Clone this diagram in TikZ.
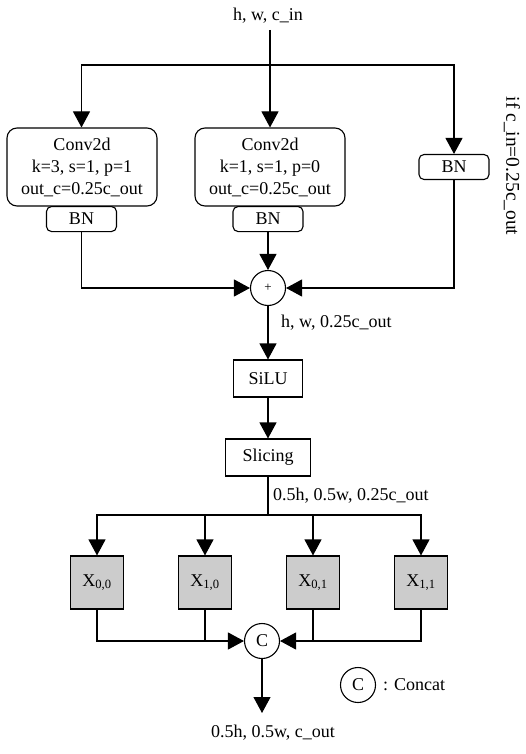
\documentclass[tikz,border=0pt]{standalone}
\usepackage{fontspec}
\setmainfont{Liberation Serif}
\usetikzlibrary{arrows.meta,calc}
\begin{document}
\begin{tikzpicture}[x=1pt,y=-1pt,
  every node/.style={font=\fontsize{18}{22}\selectfont, inner sep=0pt},
  ln/.style={line width=1.1pt},
  arr/.style={line width=1.1pt,-{Triangle[length=16pt,width=17pt]}},
  convbox/.style={draw,line width=1.1pt,rounded corners=10pt,minimum width=150pt,minimum height=78pt,align=center},
  bnbox/.style={draw,line width=1.1pt,rounded corners=5pt,minimum width=70pt,minimum height=25pt},
  opbox/.style={draw,line width=1.1pt,minimum height=37pt},
  xbox/.style={draw,line width=1.1pt,fill=black!20,minimum width=53pt,minimum height=53pt},
  opcirc/.style={draw,circle,line width=1.1pt,minimum size=35pt}
]
\useasboundingbox (0,0) rectangle (526,754);
\node (in) at (268,16) {h, w, c\_in};
\coordinate (inb) at (270,30);
\coordinate (split) at (270,65);
\node[convbox] (c1) at (82,167) {Conv2d\\k=3, s=1, p=1\\out\_c=0.25c\_out};
\node[convbox] (c2) at (270,167) {Conv2d\\k=1, s=1, p=0\\out\_c=0.25c\_out};
\node[bnbox,anchor=north] (bn1) at (81.5,206) {BN};
\node[bnbox,anchor=north] (bn2) at (268,206) {BN};
\node[bnbox] (bn3) at (454,167) {BN};
\node[rotate=-90,font=\fontsize{19.5}{22}\selectfont] (cond) at (512,166) {if c\_in=0.25c\_out};
\node[opcirc] (plus) at (268,288) {\fontsize{13}{13}\selectfont +};
\node[opbox,minimum width=69pt] (silu) at (268,378.5) {SiLU};
\node[opbox,minimum width=85pt] (slice) at (268,457.5) {Slicing};
\coordinate (bus) at (268,515);
\node[xbox] (x00) at (97,582.5) {X\textsubscript{0,0}};
\node[xbox] (x10) at (205,582.5) {X\textsubscript{1,0}};
\node[xbox] (x01) at (313,582.5) {X\textsubscript{0,1}};
\node[xbox] (x11) at (421,582.5) {X\textsubscript{1,1}};
\node[opcirc] (cat) at (262,641) {C};
\coordinate (outp) at (262,713);
\node (out) at (273,733) {0.5h, 0.5w, c\_out};
\node[opcirc] (leg) at (358,685) {C};
\node[anchor=west] (legt) at (383,685) {: Concat};
\node[anchor=west] (l1) at (281,323) {h, w, 0.25c\_out};
\node[anchor=west] (l2) at (273,496) {0.5h, 0.5w, 0.25c\_out};

\draw[ln] (inb) -- (split);
\draw[arr] (split) -- (c2.north);
\draw[arr] (split) -| (c1.north -| bn1.north);
\draw[arr] (split) -| (bn3.north);
\draw[arr] (bn1.south) |- (plus.west);
\draw[arr] (bn2.south) -- (plus.north);
\draw[arr] (bn3.south) |- (plus.east);
\draw[arr] (plus.south) -- (silu.north);
\draw[arr] (silu.south) -- (slice.north);
\draw[ln] (slice.south) -- (bus);
\draw[arr] (bus) -| (x00.north);
\draw[arr] (bus) -| (x10.north);
\draw[arr] (bus) -| (x01.north);
\draw[arr] (bus) -| (x11.north);
\draw[arr] (x00.south) |- (cat.west);
\draw[ln] (x10.south) -- (x10.south |- cat.west);
\draw[arr] (x11.south) |- (cat.east);
\draw[ln] (x01.south) -- (x01.south |- cat.east);
\draw[arr] (cat.south) -- (outp);
\end{tikzpicture}
\end{document}
